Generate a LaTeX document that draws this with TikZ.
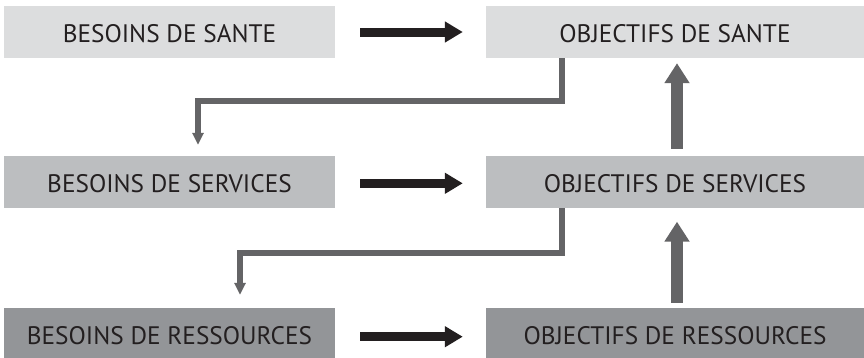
\documentclass[tikz,border=0pt]{standalone}
\usepackage{fontspec}
\setmainfont{PT Sans}
\usetikzlibrary{arrows.meta,calc}
\definecolor{boxA}{HTML}{DCDDDE}
\definecolor{boxB}{HTML}{BCBEC0}
\definecolor{boxC}{HTML}{939598}
\definecolor{ink}{HTML}{231F20}
\definecolor{conncol}{HTML}{646466}
\begin{document}
\begin{tikzpicture}[x=1pt,y=-1pt,
  box/.style={inner xsep=0pt, inner ysep=0pt, minimum height=0pt,
    text height=36.75pt, text depth=15.25pt,
    font=\fontsize{25.3}{25.3}\selectfont, text=ink},
  lbox/.style={box, minimum width=331pt},
  rbox/.style={box, minimum width=378pt},
  bigarrow/.style={draw=ink, line width=9pt, -{Triangle[width=20pt,length=18pt]}},
  connline/.style={draw=conncol, line width=5.5pt, -{Triangle[width=11pt,length=12pt]}},
  uparrow/.style={draw=conncol, line width=11.5pt, -{Triangle[width=24pt,length=20pt]}}]
\clip (0,0) rectangle (864,357);
\fill[white] (0,0) rectangle (864,357);
\node[lbox, fill=boxA] (bs)  at (169.5,32)  {BESOINS DE SANTE};
\node[rbox, fill=boxA] (os)  at (675,32)    {OBJECTIFS DE SANTE};
\node[lbox, fill=boxB] (bsv) at (169.5,182) {BESOINS DE SERVICES};
\node[rbox, fill=boxB] (osv) at (675,182)   {OBJECTIFS DE SERVICES};
\node[lbox, fill=boxC] (br)  at (169.5,334) {BESOINS DE RESSOURCES};
\node[rbox, fill=boxC] (or)  at (675,334)   {OBJECTIFS DE RESSOURCES};
% horizontal black arrows
\draw[bigarrow] ($(bs.east)+(25,0)$) -- ($(os.west)+(-23,0)$);
\draw[bigarrow] ($(bsv.east)+(25,1.3)$) -- ($(osv.west)+(-23,1.3)$);
\draw[bigarrow] ($(br.east)+(25,2.7)$) -- ($(or.west)+(-23,2.7)$);
% downward connectors
\draw[connline] ($(os.south)+(-113,0)$) -- ++(0,43) -| ($(bsv.north)+(28.5,-11)$);
\draw[connline] ($(osv.south)+(-113,0)$) -- ++(0,45) -| ($(br.north)+(70.5,-13)$);
% upward arrows
\draw[uparrow] ($(osv.north)+(2,-7)$) -- ($(os.south)+(2,5)$);
\draw[uparrow] ($(or.north)+(2,-5)$) -- ($(osv.south)+(2,13.5)$);
\end{tikzpicture}
\end{document}
